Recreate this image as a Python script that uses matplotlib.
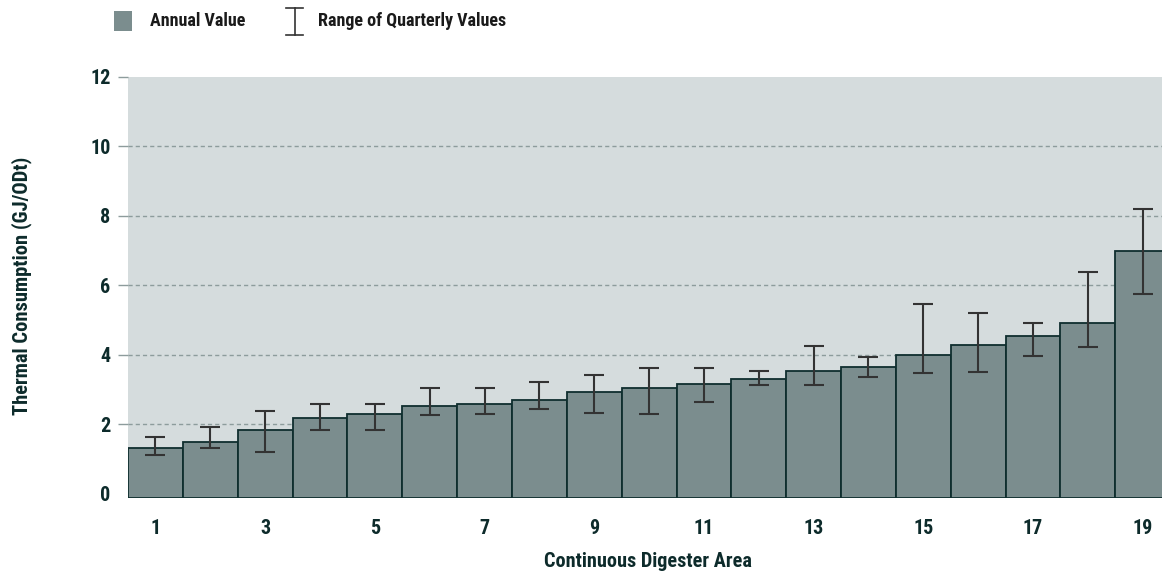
import numpy as np
import matplotlib
matplotlib.use("Agg")
from matplotlib import pyplot as plt
from matplotlib import font_manager
from matplotlib.patches import Rectangle
from matplotlib.lines import Line2D

#------------------------------------------------------------------------
#                           data
#------------------------------------------------------------------------
areas = list(range(1, 20))
annualValue = [1.31, 1.50, 1.82, 2.17, 2.28, 2.51, 2.59, 2.71, 2.93, 3.03,
               3.16, 3.31, 3.54, 3.65, 4.00, 4.27, 4.54, 4.90, 6.98]
quarterMin = [1.12, 1.31, 1.19, 1.84, 1.84, 2.26, 2.28, 2.44, 2.33, 2.30,
              2.65, 3.12, 3.12, 3.35, 3.47, 3.49, 3.96, 4.22, 5.74]
quarterMax = [1.62, 1.93, 2.38, 2.57, 2.57, 3.04, 3.03, 3.21, 3.41, 3.62,
              3.62, 3.54, 4.26, 3.93, 5.46, 5.21, 4.90, 6.38, 8.20]
yTicks = [0, 2, 4, 6, 8, 10, 12]
xTickLabels = [str(a) for a in areas if a % 2 == 1]

#------------------------------------------------------------------------
#                           font: look for a bold condensed face
#------------------------------------------------------------------------
def pickFont():
    wanted = ['liberationsansnarrow-bold', 'robotocondensed-bold', 'opensanscondensed-bold',
              'dejavusanscondensed-bold']
    files = {f.fname.lower().split('/')[-1].rsplit('.', 1)[0]: f.fname
             for f in font_manager.fontManager.ttflist}
    for w in wanted:
        for key, path in files.items():
            if key.replace('_', '').replace(' ', '') == w:
                return font_manager.FontProperties(fname=path)
    return font_manager.FontProperties(family='DejaVu Sans', weight='bold', stretch='condensed')

fp = pickFont()

barColor = '#7b8d8e'
edgeColor = '#0f2e2e'
bgColor = '#d5dcdd'
gridColor = '#8d9c9c'
errColor = '#333333'
textColor = '#0d2b2b'

def font(size):
    f = fp.copy()
    f.set_size(size)
    return f

W, H = 1162, 573
fig = plt.figure(figsize=(W/100, H/100), dpi=100)

#axes placed in pixels; the last bar runs past the right edge as in the source
barW = 54.85
left, right = 128, 128 + 19*barW
bottom, top = 498.3, 76.5
ax = fig.add_axes([left/W, 1 - bottom/H, (right-left)/W, (bottom-top)/H])
ax.set_facecolor(bgColor)

base = -0.13
heights = np.array(annualValue) - base
ax.bar(areas, heights, bottom=base, width=1.0, color=barColor,
       edgecolor=edgeColor, linewidth=1.3, zorder=2)

errLow = np.array(annualValue) - np.array(quarterMin)
errHigh = np.array(quarterMax) - np.array(annualValue)
ax.errorbar(areas, annualValue, yerr=[errLow, errHigh], fmt='none',
            ecolor=errColor, elinewidth=1.5, capsize=7.2, capthick=1.5, zorder=3)

#dashed grid lines, none at 0 and 12
for t in yTicks[1:-1]:
    ax.axhline(t, color=gridColor, linestyle=(0, (3, 2.2)), linewidth=1.0, zorder=1)

ax.set_xlim(0.5, 19.5)
ax.set_ylim(base, 12)
ax.set_yticks(yTicks)
ax.set_yticklabels([str(t) for t in yTicks])
ax.set_xticks([a for a in areas if a % 2 == 1])
ax.set_xticklabels(xTickLabels)

for s in ax.spines.values():
    s.set_visible(False)

ax.tick_params(axis='y', length=7.5, width=1, color=gridColor, pad=5, labelcolor=textColor)
ax.tick_params(axis='x', length=0, pad=15, labelcolor=textColor)
ax.yaxis.get_major_ticks()[0].tick1line.set_visible(False)
for lab in ax.get_xticklabels() + ax.get_yticklabels():
    lab.set_fontproperties(font(14.5))

#axis titles
fig.text(21.7/W, 1 - 286/H, 'Thermal Consumption (GJ/ODt)', rotation=90,
         ha='center', va='center', fontproperties=font(14.8), color=textColor)
fig.text(648/W, 1 - 561.7/H, 'Continuous Digester Area', ha='center', va='center',
         fontproperties=font(14.6), color=textColor)

#------------------------------------------------------------------------
#                           legend
#------------------------------------------------------------------------
fig.patches.append(Rectangle((114/W, 1 - 30.5/H), 18/W, 19.5/H, transform=fig.transFigure,
                             facecolor=barColor, edgecolor='none'))
fig.text(150/W, 1 - 20.5/H, 'Annual Value', ha='left', va='center',
         fontproperties=font(13), color='#1a1a1a')

cx = 294.5
for seg in [((cx, cx), (8, 35)), ((286, 303), (8, 8)), ((286, 303), (35, 35))]:
    fig.lines.append(Line2D([x/W for x in seg[0]], [1 - y/H for y in seg[1]],
                            transform=fig.transFigure, color=errColor, linewidth=1.2))
fig.text(318/W, 1 - 20.5/H, 'Range of Quarterly Values', ha='left', va='center',
         fontproperties=font(13), color='#1a1a1a')

fig.savefig('out.png', dpi=100)
